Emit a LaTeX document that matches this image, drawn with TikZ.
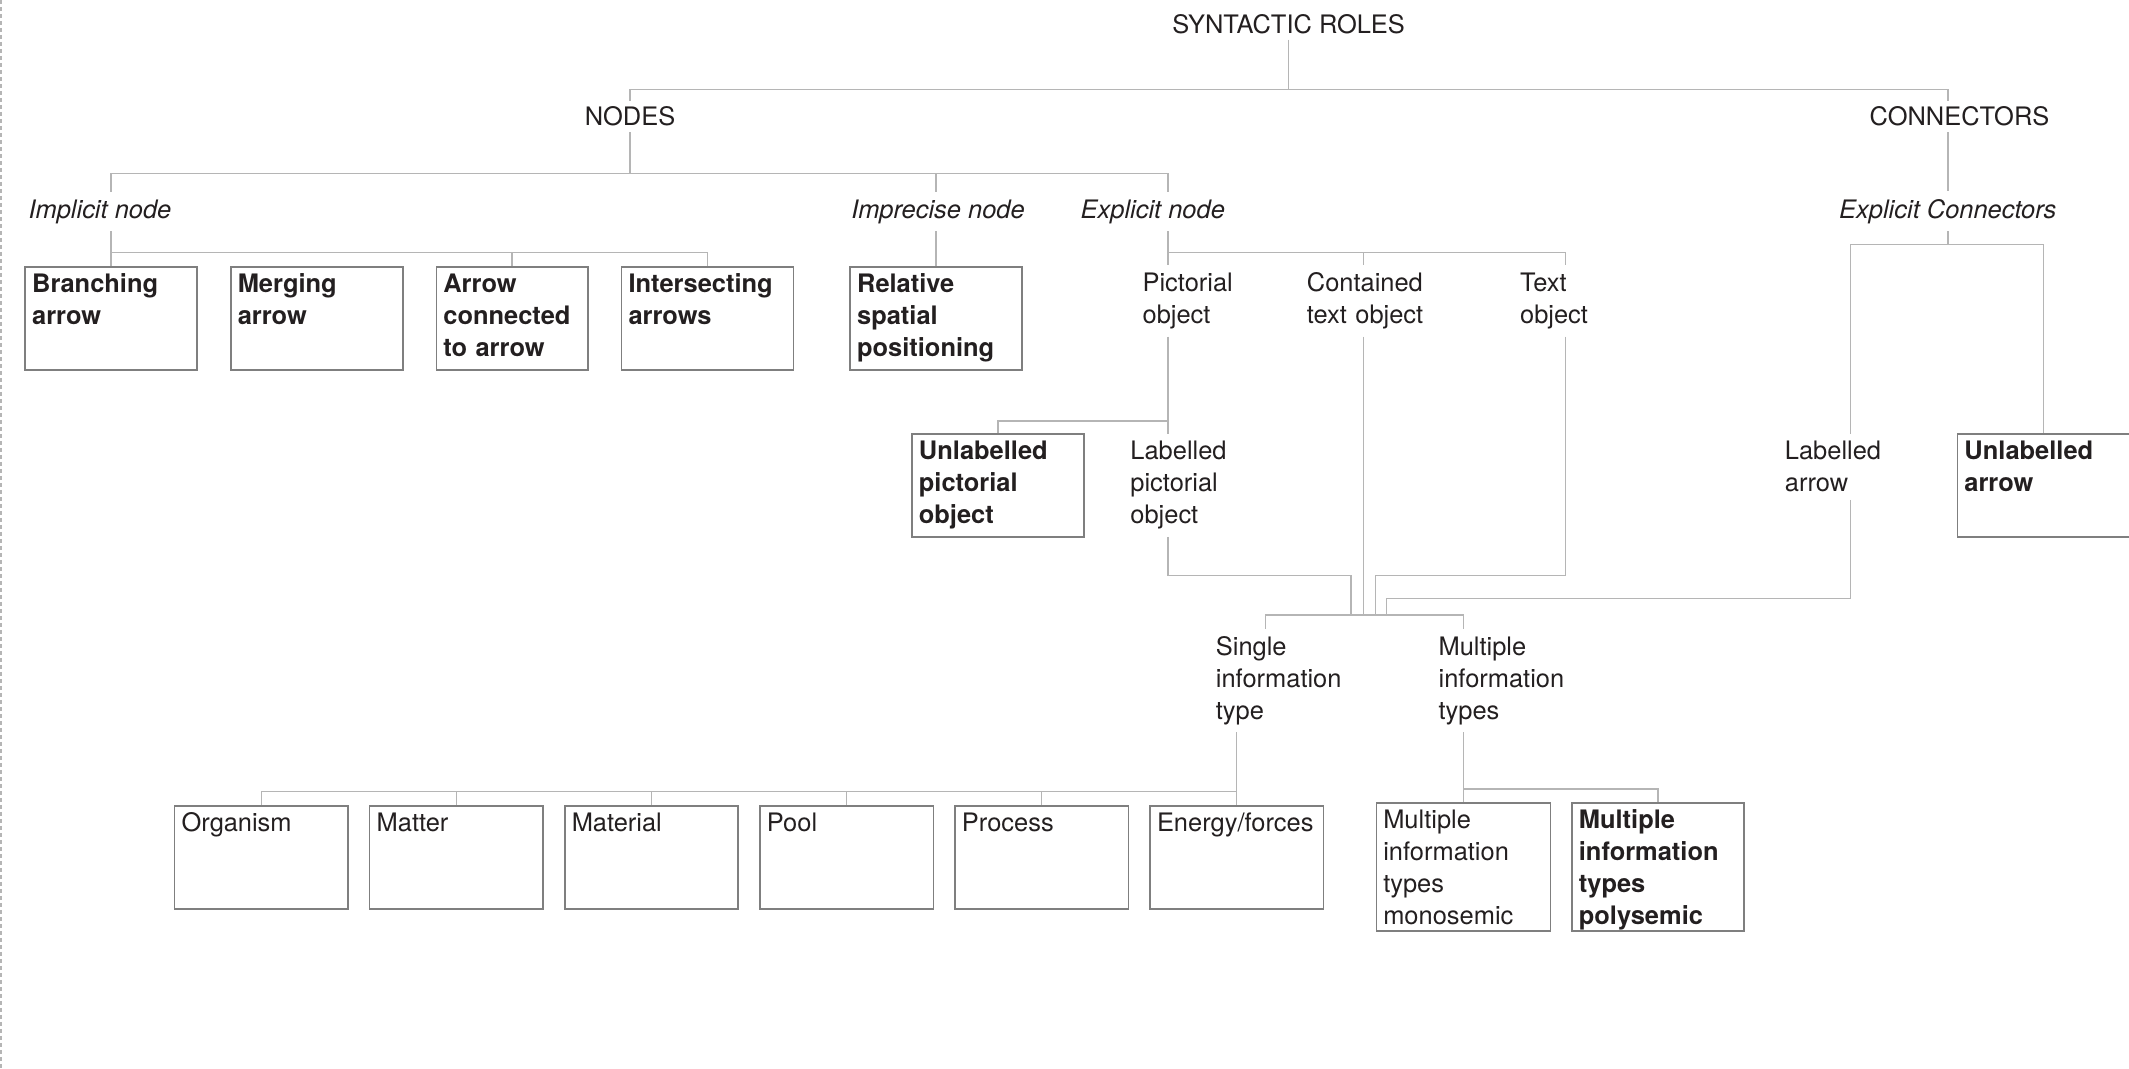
\documentclass[tikz,border=0pt]{standalone}
\usepackage{fontspec}
\setmainfont{TeX Gyre Heros}
\usetikzlibrary{positioning}

\definecolor{inkgray}{HTML}{231F20}
\definecolor{boxgray}{HTML}{7F7F7F}
\definecolor{linkgray}{HTML}{B5B5B5}

\begin{document}
\begin{tikzpicture}[node distance=0.32cm,
        every node/.style={font=\fontsize{7.24}{9.07}\selectfont, text=inkgray},
        head/.style={anchor=base, inner ysep=0.05cm},
        cat/.style={anchor=base, inner ysep=0.07cm, font=\fontsize{7.24}{9.07}\selectfont\itshape},
        lbl/.style={anchor=base west, inner xsep=0pt, inner ysep=0.07cm, text width=2cm, align=left},
        box/.style={rectangle, draw=boxgray, line width=0.45pt, anchor=north west, inner sep=0.07cm, text width=1.58cm, text height=0.185cm, text depth=0.707cm, align=left},
        boxb/.style={box, font=\fontsize{7.24}{9.07}\selectfont\bfseries},
        link/.style={draw=linkgray, line width=0.4pt}]

    \useasboundingbox (0,0) rectangle (21.29,-10.69);
    \draw[linkgray, line width=0.4pt, dash pattern=on 0.04cm off 0.03cm] (0.012,0) -- (0.012,-10.69);

    % levels and columns of the tree
    \coordinate (lv1) at (0,-0.896);
    \coordinate (lv2) at (0,-1.738);
    \coordinate (lvc) at (0,-2.444);
    \coordinate (lv3) at (0,-2.526);
    \coordinate (lv4) at (0,-4.209);
    \coordinate (lv5) at (0,-5.757);
    \coordinate (lv6) at (0,-5.988);
    \coordinate (lv7) at (0,-6.151);
    \coordinate (lv8) at (0,-7.889);
    \coordinate (lv9) at (0,-7.916);
    \coordinate (colpict) at (11.68,0);
    \coordinate (colcont) at (13.632,0);
    \coordinate (coltext) at (15.655,0);
    \coordinate (colarrow) at (18.505,0);
    \coordinate (colsingle) at (12.655,0);
    \coordinate (colmA) at (13.51,0);
    \coordinate (colmC) at (13.755,0);
    \coordinate (colmD) at (13.863,0);

    \node[head] (roles) at (12.886,-0.335) {SYNTACTIC ROLES};
    \node[head] (nodes) at (6.30,-1.259) {NODES};
    \node[head] (connectors) at (19.595,-1.259) {CONNECTORS};

    \node[cat] (implicit) at (1.00,-2.182) {Implicit node};
    \node[cat] (imprecise) at (9.38,-2.182) {Imprecise node};
    \node[cat] (explicit) at (11.528,-2.182) {Explicit node};
    \node[cat] (explconn) at (19.478,-2.182) {Explicit Connectors};

    \node[boxb] (branching) at (0.244,-2.661) {Branching\\arrow};
    \node[boxb, right=of branching] (merging) {Merging\\arrow};
    \node[boxb, right=of merging, text width=1.376cm] (arrowconn) {Arrow\\connected\\to arrow};
    \node[boxb, right=of arrowconn] (intersect) {Intersecting\\arrows};
    \node[boxb, right=0.55cm of intersect] (relative) {Relative\\spatial\\positioning};

    \node[lbl] (pict) at (11.419,-2.915) {Pictorial\\object};
    \node[lbl] (contained) at (13.062,-2.915) {Contained\\text object};
    \node[lbl] (textobj) at (15.194,-2.915) {Text\\object};
    \node[boxb] (unlpict) at (9.111,-4.331) {Unlabelled\\pictorial\\object};
    \node[lbl] (labpict) at (11.297,-4.599) {Labelled\\pictorial\\object};
    \node[lbl] (labarrow) at (17.842,-4.599) {Labelled\\arrow};
    \node[boxb] (unlarrow) at (19.566,-4.331) {Unlabelled\\arrow};

    \node[lbl] (single) at (12.152,-6.554) {Single\\information\\type};
    \node[lbl] (multiple) at (14.379,-6.554) {Multiple\\information\\types};

    \node[box, text width=1.595cm] (organism) at (1.738,-8.052) {Organism};
    \node[box, text width=1.595cm, right=0.2cm of organism] (matter) {Matter};
    \node[box, text width=1.595cm, right=0.2cm of matter] (material) {Material};
    \node[box, text width=1.595cm, right=0.2cm of material] (pool) {Pool};
    \node[box, text width=1.595cm, right=0.2cm of pool] (process) {Process};
    \node[box, text width=1.595cm, right=0.2cm of process] (energy) {Energy/forces};
    \node[box, text width=1.6cm, text depth=0.955cm] (mono) at (13.755,-8.025) {Multiple\\information\\types\\monosemic};
    \node[boxb, text depth=0.955cm, right=0.2cm of mono] (poly) {Multiple\\information\\types\\polysemic};

    % top of the tree
    \draw[link] (roles.south) -- (roles.south |- lv1) -| (nodes.north);
    \draw[link] (roles.south |- lv1) -| (connectors.north -| explconn.north);
    \draw[link] (nodes.south) -- (nodes.south |- lv2);
    \draw[link] (implicit.north -| branching.north) |- (colpict |- lv2) -- (explicit.north -| colpict);
    \draw[link] (imprecise.north -| relative.north) -- (relative.north |- lv2);
    \draw[link] (connectors.south -| explconn.north) -- (explconn.north);

    % nodes
    \draw[link] (implicit.south -| branching.north) -- (branching.north);
    \draw[link] (branching.north |- lv3) -| (intersect.north);
    \draw[link] (arrowconn.north) -- (arrowconn.north |- lv3);
    \draw[link] (imprecise.south -| relative.north) -- (relative.north);
    \draw[link] (explicit.south -| colpict) -- (pict.north -| colpict);
    \draw[link] (colpict |- lv3) -| (textobj.north -| coltext);
    \draw[link] (contained.north -| colcont) -- (colcont |- lv3);
    \draw[link] (pict.south -| colpict) -- (labpict.north -| colpict);
    \draw[link] (colpict |- lv4) -| (unlpict.north);

    % connectors
    \draw[link] (explconn.south) -- (explconn.south |- lvc);
    \draw[link] (labarrow.north -| colarrow) |- (unlarrow.north |- lvc) -- (unlarrow.north);

    % information types
    \draw[link] (labpict.south -| colpict) |- (colmA |- lv5) -- (colmA |- lv7);
    \draw[link] (contained.south -| colcont) -- (colcont |- lv7);
    \draw[link] (textobj.south -| coltext) |- (colmC |- lv5) -- (colmC |- lv7);
    \draw[link] (labarrow.south -| colarrow) |- (colmD |- lv6) -- (colmD |- lv7);
    \draw[link] (single.north -| colsingle) |- (mono.north |- lv7) -- (multiple.north -| mono.north);

    \draw[link] (single.south -| energy.north) -- (energy.north);
    \draw[link] (energy.north |- lv9) -| (organism.north);
    \draw[link] (matter.north) -- (matter.north |- lv9);
    \draw[link] (material.north) -- (material.north |- lv9);
    \draw[link] (pool.north) -- (pool.north |- lv9);
    \draw[link] (process.north) -- (process.north |- lv9);
    \draw[link] (multiple.south -| mono.north) -- (mono.north);
    \draw[link] (mono.north |- lv8) -| (poly.north);
\end{tikzpicture}
\end{document}
